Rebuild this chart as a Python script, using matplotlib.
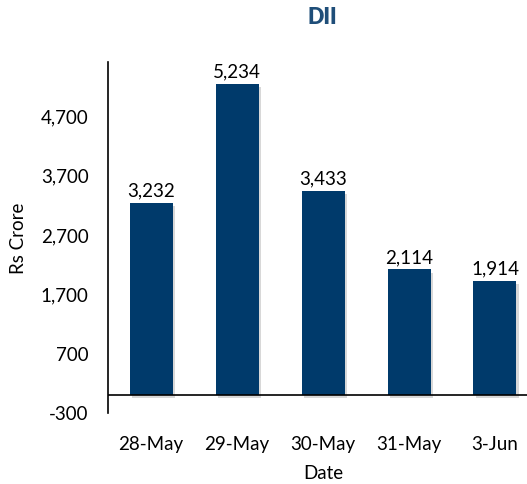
import matplotlib
matplotlib.use("Agg")
import matplotlib.pyplot as plt
import matplotlib.patheffects as pe

categories = ["28-May", "29-May", "30-May", "31-May", "3-Jun"]
values = [3232, 5234, 3433, 2114, 1914]
yticks = [-300, 700, 1700, 2700, 3700, 4700]

plt.rcParams['font.family'] = ['Lato', 'DejaVu Sans']

fig = plt.figure(figsize=(5.27, 4.85), dpi=100)
ax = fig.add_axes([108/527, 71.5/485, 430/527, 350.5/485])

bar_color = "#003A6B"
x = list(range(len(categories)))
bars = ax.bar(x, values, width=0.5, color=bar_color, zorder=3)
for b in bars:
    b.set_path_effects([pe.SimplePatchShadow(offset=(1.5, -2.5), shadow_rgbFace='gray', alpha=0.3), pe.Normal()])

fs = 13.5
for xi, v in zip(x, values):
    ax.annotate(f"{v:,}", (xi, v), xytext=(0, 3), textcoords='offset points',
                ha='center', va='bottom', fontsize=fs, color='black')

ax.set_xlim(-0.5, len(categories) - 0.5)
ax.set_ylim(-300, 5600)
ax.set_yticks(yticks)
ax.set_yticklabels([f"{t:,}" for t in yticks], fontsize=fs)
ax.set_xticks(x)
ax.set_xticklabels(categories, fontsize=fs)
ax.tick_params(axis='both', length=0)
ax.tick_params(axis='y', pad=14)
ax.tick_params(axis='x', pad=16)

ax.axhline(0, color='black', linewidth=1.2, zorder=4)
for s in ['top', 'right', 'bottom']:
    ax.spines[s].set_visible(False)
ax.spines['left'].set_linewidth(1.2)
ax.spines['left'].set_color('black')

ax.set_ylabel("Rs Crore", fontsize=fs, labelpad=10)
ax.set_xlabel("Date", fontsize=fs, labelpad=9)
fig.text(322/527, 1 - 18/485, "DII", ha='center', va='center', fontsize=15.5,
         fontweight='heavy', color="#1F4E79")

fig.savefig("out.png", dpi=100)
